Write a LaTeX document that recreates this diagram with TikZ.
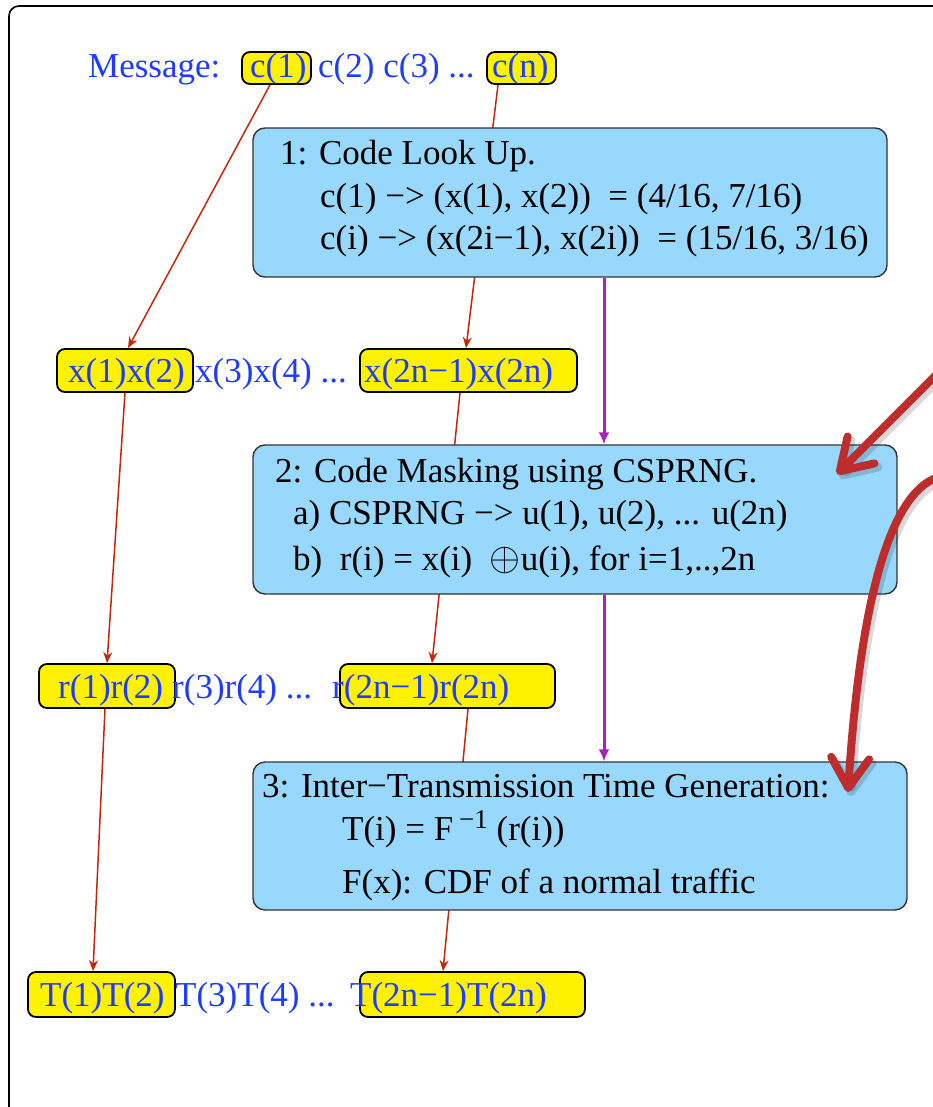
\documentclass[tikz,border=0pt]{standalone}
\usepackage{fontspec}
\usepackage{graphicx}
\setmainfont{Liberation Serif}
\usetikzlibrary{arrows.meta}
\definecolor{boxblue}{RGB}{152,216,252}
\definecolor{txtblue}{RGB}{30,60,250}
\definecolor{linered}{RGB}{192,40,10}
\definecolor{purp}{RGB}{165,35,185}
\definecolor{bigred}{RGB}{190,45,45}
\newcommand\diagfont{\fontsize{35}{42}\selectfont}
\newcommand\supfont{\fontsize{27}{30}\selectfont}
\begin{document}
\begin{tikzpicture}[x=1pt,y=-1pt,
  ybox/.style={draw=black,line width=1.8pt,fill=yellow,rounded corners=8pt,inner sep=0pt},
  bbox/.style={draw=black!80,line width=1.4pt,fill=boxblue,rounded corners=12pt,inner sep=0pt},
  btxt/.style={anchor=base west,inner sep=0pt,text=txtblue,font=\diagfont},
  ktxt/.style={anchor=base west,inner sep=0pt,text=black,font=\diagfont},
  conn/.style={draw=linered,line width=1.5pt,-{Stealth[length=11pt,width=9pt]}},
  pconn/.style={draw=purp,line width=3pt,-{Latex[length=12pt,width=11pt]}},
  bigarrow/.style={draw=bigred,line width=8pt,line cap=round,-{Straight Barb[length=30pt,width=38pt,round]}},
  bigshadow/.style={draw=black,opacity=0.15,line width=9pt,line cap=round,-{Straight Barb[length=30pt,width=38pt,round]}}
]
\useasboundingbox (0,0) rectangle (933,1107);
% outer frame
\draw[line width=1.6pt,rounded corners=10pt] (9,1115) -- (9,6) -- (950,6);

% yellow boxes
\node[ybox,minimum width=69pt,minimum height=32pt] (c1) at (276.5,68) {};
\node[ybox,minimum width=69pt,minimum height=32pt] (cn) at (521.5,68) {};
\node[ybox,minimum width=136pt,minimum height=43pt] (x12) at (125,370.5) {};
\node[ybox,minimum width=217pt,minimum height=43pt] (xn) at (468.5,370.5) {};
\node[ybox,minimum width=136pt,minimum height=44pt] (r12) at (107,686) {};
\node[ybox,minimum width=215pt,minimum height=44pt] (rn) at (447.5,686) {};
\node[ybox,minimum width=147pt,minimum height=45pt] (T12) at (101.5,994.5) {};
\node[ybox,minimum width=225pt,minimum height=45pt] (Tn) at (472.5,994.5) {};

% row texts
\node[btxt] (tmsg) at (88,78) {Message:};
\node[btxt] (tc1) at (250,78) {c(1)};
\node[btxt] (tcmid) at (318,78) {c(2) c(3) ...};
\node[btxt] (tcn) at (492,78) {c(n)};

\node[btxt] (tx12) at (68,382) {x(1)x(2)};
\node[btxt] (txmid) at (195,382) {x(3)x(4) ...};
\node[btxt] (txn) at (364,382) {x(2n−1)x(2n)};

\node[btxt] (tr12) at (58,698) {r(1)r(2)};
\node[btxt] (trmid) at (172,698) {r(3)r(4) ...};
\node[btxt] (trn) at (332,698) {r(2n−1)r(2n)};

\node[btxt] (tT12) at (40,1006) {T(1)T(2)};
\node[btxt] (tTmid) at (175,1006) {T(3)T(4) ...};
\node[btxt] (tTn) at (350,1006) {T(2n−1)T(2n)};

% thin red connectors (behind the blue boxes)
\draw[conn] ([xshift=-6.5pt]c1.south) -- ([xshift=3pt]x12.north);
\draw[conn] ([xshift=-23.5pt]cn.south) -- ([xshift=-2.5pt]xn.north);
\draw[conn] (x12.south) -- (r12.north);
\draw[conn] ([xshift=-8.5pt]xn.south) -- ([xshift=-15.5pt]rn.north);
\draw[conn] ([xshift=-2pt]r12.south) -- ([xshift=-8.5pt]T12.north);
\draw[conn] ([xshift=20.5pt]rn.south) -- ([xshift=-29.5pt]Tn.north);

% blue boxes
\node[bbox,minimum width=634pt,minimum height=149pt] (b1) at (570,202.5) {};
\node[bbox,minimum width=644pt,minimum height=149pt] (b2) at (575,519.5) {};
\node[bbox,minimum width=654pt,minimum height=148pt] (b3) at (580,836) {};

\node[ktxt] (b1l1) at (280,165) {1: Code Look Up.};
\node[ktxt] (b1l2) at (320,208) {c(1) −> (x(1), x(2))\ \ = (4/16, 7/16)};
\node[ktxt] (b1l3) at (320,250) {c(i) −> (x(2i−1), x(2i))\ \ = (15/16, 3/16)};

\node[ktxt] (b2l1) at (275,482) {2: Code Masking using CSPRNG.};
\node[ktxt] (b2l2) at (293,524) {a) CSPRNG −> u(1), u(2), ... u(2n)};
\node[ktxt] (b2l3) at (293,570) {b)\ \ r(i) = x(i)\ \ \smash{\scalebox{1.6}{$\oplus$}}u(i), for i=1,..,2n};

\node[ktxt] (b3l1) at (262,797) {3: Inter−Transmission Time Generation:};
\node[ktxt] (b3l2) at (342,840) {T(i) = F\,\raisebox{12pt}{\supfont −1}\ (r(i))};
\node[ktxt] (b3l3) at (342,893) {F(x): CDF of a normal traffic};

% purple connectors
\coordinate (pc) at (604,0);
\draw[pconn] (b1.south -| pc) -- (b2.north -| pc);
\draw[pconn] (b2.south -| pc) -- (b3.north -| pc);

% big red annotation arrows
\coordinate (a1s) at (942,369);
\coordinate (a1e) at (837,474);
\coordinate (a2s) at (942,476);
\coordinate (a2e) at (848,792);
\draw[bigshadow] ([shift={(3,4)}]a1s) -- ([shift={(3,4)}]a1e);
\draw[bigshadow] ([shift={(3,4)}]a2s) .. controls (885,494) and (861,640) .. ([shift={(3,4)}]a2e);
\draw[bigarrow] (a1s) -- (a1e);
\draw[bigarrow] (a2s) .. controls (882,490) and (858,636) .. (a2e);
\end{tikzpicture}
\end{document}
